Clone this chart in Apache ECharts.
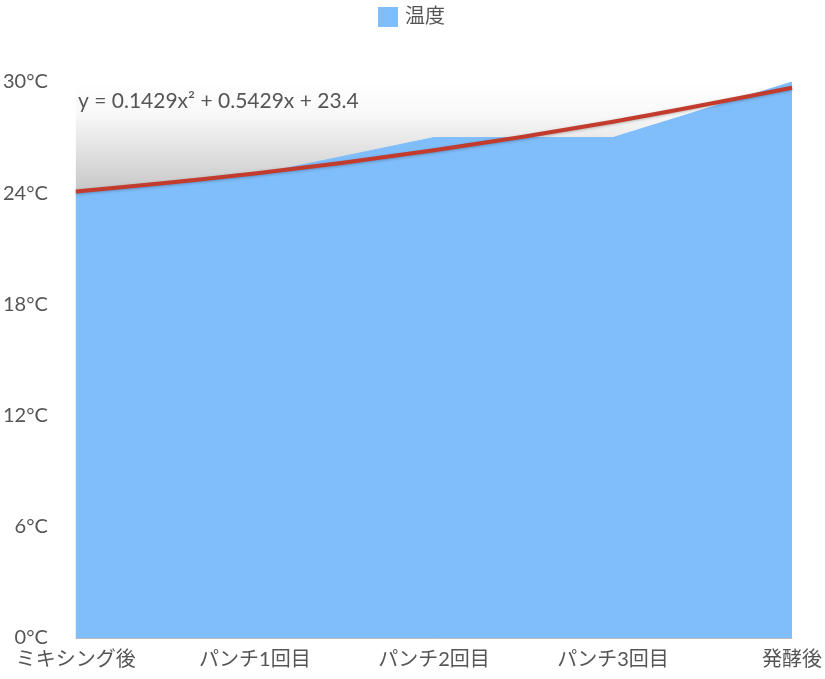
<!DOCTYPE html>
<html>
<head>
<meta charset="utf-8">
<script src="https://cdn.jsdelivr.net/npm/echarts@6/dist/echarts.min.js"></script>
<style>html,body{margin:0;padding:0;background:#fff;}#c{width:825px;height:679px;}</style>
</head>
<body>
<div id="c"></div>
<script>
const categories = ['ミキシング後', 'パンチ1回目', 'パンチ2回目', 'パンチ3回目', '発酵後'];
const temperature = [24, 25, 27, 27, 30];
const trendCoef = [0.1429, 0.5429, 23.4]; // y = a x^2 + b x + c (x = 1..5)
const yTicks = [0, 6, 12, 18, 24, 30];
const equationText = 'y = 0.1429x² + 0.5429x + 23.4';

const trendValues = categories.map((_, i) => {
  const x = i + 1;
  return +(trendCoef[0] * x * x + trendCoef[1] * x + trendCoef[2]).toFixed(3);
});
const topValues = categories.map(() => yTicks[yTicks.length - 1]);

const font = 'Lato, "Noto Sans CJK JP", sans-serif';
const chart = echarts.init(document.getElementById('c'));
chart.setOption({
  animation: false,
  textStyle: { fontFamily: font },
  legend: {
    data: ['温度'], top: 2, left: 373,
    icon: 'rect', itemWidth: 20, itemHeight: 20, itemGap: 10,
    textStyle: { fontSize: 20, color: '#555', fontFamily: font, padding: [0, 0, 0, 2] }
  },
  title: {
    text: equationText, left: 73, top: 86,
    textStyle: { fontSize: 21, fontWeight: 'normal', color: '#555', fontFamily: font }
  },
  grid: { left: 75, right: 32, top: 82, bottom: 41, containLabel: false },
  xAxis: {
    type: 'category', data: categories, boundaryGap: false,
    axisLine: { show: true, lineStyle: { color: '#bbb', width: 1 } },
    axisTick: { show: false },
    axisLabel: { fontSize: 20, color: '#555', margin: 12, fontFamily: font, interval: 0 }
  },
  yAxis: {
    type: 'value', min: 0, max: 30, interval: 6,
    axisLine: { show: false }, axisTick: { show: false },
    axisLabel: { fontSize: 20, color: '#555', margin: 28, formatter: '{value}°C', fontFamily: font },
    splitLine: { show: true, lineStyle: { color: '#ccc', type: 'dotted', width: 1 } }
  },
  series: [
    {
      name: 'bg', type: 'line', data: topValues, symbol: 'none', silent: true,
      lineStyle: { width: 0 }, z: 1,
      areaStyle: {
        opacity: 1,
        color: new echarts.graphic.LinearGradient(0, 0, 0, 1, [
          { offset: 0, color: '#ffffff' },
          { offset: 0.06, color: '#f8f8f8' },
          { offset: 0.2, color: '#c6c6c6' },
          { offset: 1, color: '#c6c6c6' }
        ])
      }
    },
    {
      name: '温度', type: 'line', data: temperature, symbol: 'none', z: 2,
      itemStyle: { color: '#7fbdfb' },
      lineStyle: { width: 1, color: '#7fbdfb' },
      areaStyle: { color: '#7fbdfb', opacity: 1 }
    },
    {
      name: 'trend', type: 'line', data: trendValues, symbol: 'none', smooth: 0.35, z: 3, silent: true,
      lineStyle: { width: 4, color: '#c23b2c', shadowColor: 'rgba(0,0,0,0.25)', shadowBlur: 3, shadowOffsetY: 1 }
    }
  ]
});
</script>
</body>
</html>
